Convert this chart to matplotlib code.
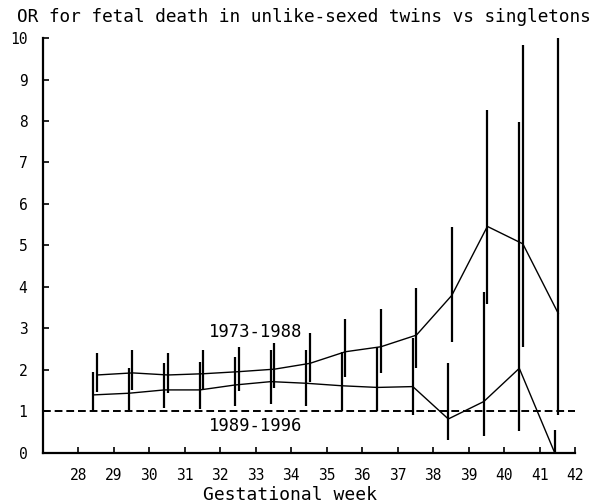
import matplotlib
matplotlib.use("Agg")
import matplotlib.pyplot as plt

weeks = [28.5, 29.5, 30.5, 31.5, 32.5, 33.5, 34.5, 35.5, 36.5, 37.5, 38.5, 39.5, 40.5, 41.5]

# 1973-1988
or_early = [1.88, 1.93, 1.88, 1.91, 1.96, 2.02, 2.16, 2.44, 2.56, 2.84, 3.80, 5.46, 5.04, 3.36]
lo_early = [1.48, 1.52, 1.44, 1.52, 1.49, 1.56, 1.72, 1.84, 1.92, 2.04, 2.68, 3.60, 2.56, 0.92]
hi_early = [2.42, 2.48, 2.42, 2.49, 2.56, 2.64, 2.88, 3.24, 3.48, 3.97, 5.44, 8.27, 9.83, 10.0]

# 1989-1996
or_late = [1.40, 1.44, 1.52, 1.52, 1.64, 1.72, 1.68, 1.62, 1.58, 1.60, 0.82, 1.24, 2.04, 0.0]
lo_late = [1.00, 1.00, 1.08, 1.06, 1.14, 1.18, 1.14, 1.00, 1.00, 0.92, 0.32, 0.40, 0.52, 0.0]
hi_late = [1.96, 2.04, 2.16, 2.20, 2.32, 2.48, 2.48, 2.44, 2.56, 2.76, 2.16, 3.88, 7.97, 0.56]

xticks = list(range(28, 43))
yticks = list(range(0, 11))

mono = "DejaVu Sans Mono"

fig = plt.figure(figsize=(6.14, 5.04), dpi=100)
ax = fig.add_axes([0.0695, 0.1012, 0.867, 0.8234])

x_early = [w + 0.03 for w in weeks]
x_late = [w - 0.07 for w in weeks]

ax.plot(x_early, or_early, color="black", lw=1.0)
ax.plot(x_late, or_late, color="black", lw=1.0)
ax.vlines(x_early, lo_early, hi_early, color="black", lw=1.6)
ax.vlines(x_late, lo_late, hi_late, color="black", lw=1.6)

ax.axhline(1, color="black", lw=1.4, ls=(0, (4, 2)))

ax.text(33.0, 2.92, "1973-1988", family=mono, fontsize=12.4, ha="center", va="center")
ax.text(33.0, 0.65, "1989-1996", family=mono, fontsize=12.4, ha="center", va="center")

ax.set_xlim(27, 42)
ax.set_ylim(0, 10)
ax.set_xticks(xticks)
ax.set_yticks(yticks)
ax.set_xticklabels([str(t) for t in xticks], family=mono, fontsize=10.5)
ax.set_yticklabels([str(t) for t in yticks], family=mono, fontsize=10.5)
ax.tick_params(axis="x", direction="in", length=4, width=1.2, pad=11)
ax.tick_params(axis="y", direction="in", length=4, width=1.2, pad=11)

for s in ["top", "right"]:
    ax.spines[s].set_visible(False)
for s in ["left", "bottom"]:
    ax.spines[s].set_linewidth(1.6)

fig.text(17 / 614, 1 - 22 / 504, "OR for fetal death in unlike-sexed twins vs singletons",
         family=mono, fontsize=12.8, ha="left", va="baseline")
fig.text(290 / 614, 1 - 495 / 504, "Gestational week",
         family=mono, fontsize=13, ha="center", va="center")

fig.savefig("out.png", dpi=100)
